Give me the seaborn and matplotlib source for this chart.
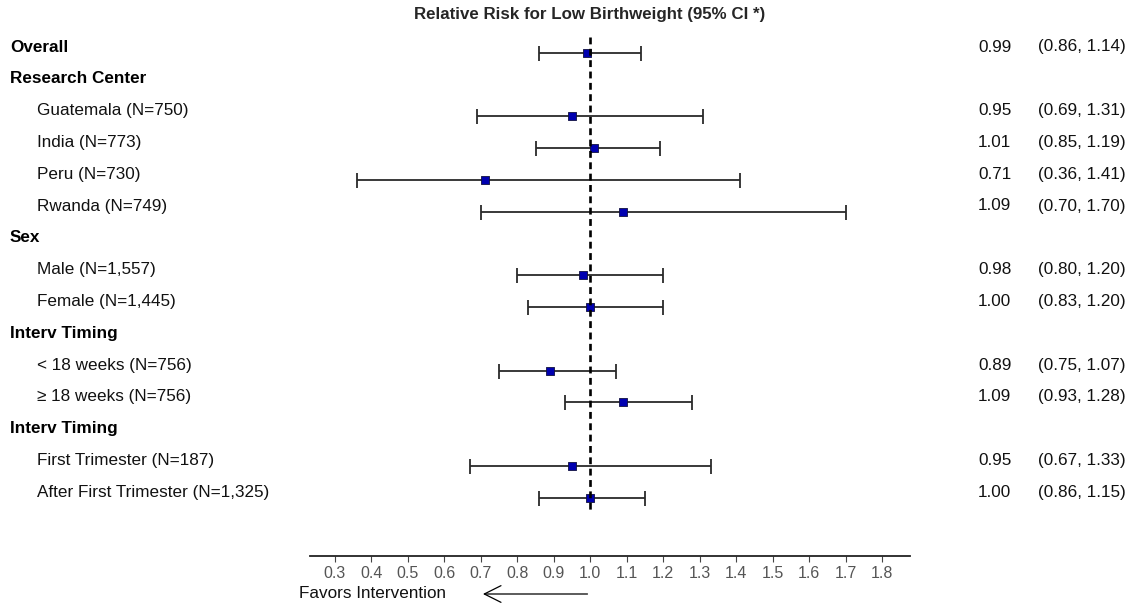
import matplotlib
matplotlib.use("Agg")
import matplotlib.pyplot as plt
import matplotlib.transforms as mtransforms
import seaborn as sns
import pandas as pd
import numpy as np

labels = ["Overall", "Research Center", "Guatemala (N=750)", "India (N=773)", "Peru (N=730)",
          "Rwanda (N=749)", "Sex", "Male (N=1,557)", "Female (N=1,445)", "Interv Timing",
          "< 18 weeks (N=756)", "\u2265 18 weeks (N=756)", "Interv Timing",
          "First Trimester (N=187)", "After First Trimester (N=1,325)"]
is_header = [True, True, False, False, False, False, True, False, False, True,
             False, False, True, False, False]
rr = [0.99, None, 0.95, 1.01, 0.71, 1.09, None, 0.98, 1.00, None, 0.89, 1.09, None, 0.95, 1.00]
lo = [0.86, None, 0.69, 0.85, 0.36, 0.70, None, 0.80, 0.83, None, 0.75, 0.93, None, 0.67, 0.86]
hi = [1.14, None, 1.31, 1.19, 1.41, 1.70, None, 1.20, 1.20, None, 1.07, 1.28, None, 1.33, 1.15]
ticks = [0.3, 0.4, 0.5, 0.6, 0.7, 0.8, 0.9, 1.0, 1.1, 1.2, 1.3, 1.4, 1.5, 1.6, 1.7, 1.8]

sns.set_theme(style="white")
plt.rcParams['font.family'] = ['Liberation Sans', 'DejaVu Sans']

W, H = 1132, 607
fig = plt.figure(figsize=(W / 100, H / 100), dpi=100)
ax_left, ax_right, ax_top, ax_bot = 310, 910, 37, 556
ax = fig.add_axes([ax_left / W, 1 - ax_bot / H, (ax_right - ax_left) / W, (ax_bot - ax_top) / H])

df = pd.DataFrame({"label": labels, "header": is_header, "rr": rr, "lo": lo, "hi": hi})
df["row"] = np.arange(len(df))
d = df.dropna(subset=["rr"])

ax.errorbar(d["rr"], d["row"], xerr=[d["rr"] - d["lo"], d["hi"] - d["rr"]], fmt="none",
            ecolor="#2a2a2a", elinewidth=1.3, capsize=5.4, capthick=1.3, zorder=2)
sns.scatterplot(data=d, x="rr", y="row", ax=ax, marker="s", s=30, color="#0000b0",
                edgecolor="#101040", linewidth=0.6, zorder=3, legend=False)

row_px = 31.8
y_top = -(52.5 - ax_top) / row_px
y_bot = (ax_bot - 52.5) / row_px
ax.set_ylim(y_bot, y_top)
ax.vlines(1.0, y_top, (510 - 52.5) / row_px, colors="black", linestyles=(0, (2.6, 1.7)),
          linewidth=1.9, zorder=4)

x0 = 0.3 - (335 - ax_left) / 364.7
x1 = 1.8 + (ax_right - 882) / 364.7
ax.set_xlim(x0, x1)
ax.set_xticks(ticks)
ax.set_xticklabels([f"{t:.1f}" for t in ticks], color="#555555", fontsize=11.5)
ax.tick_params(axis="x", direction="out", length=4, width=0.8, color="#444444", pad=3, bottom=True)
ax.set_yticks([])
ax.set_xlabel("")
ax.set_ylabel("")
for s in ["top", "left", "right"]:
    ax.spines[s].set_visible(False)
ax.spines["bottom"].set_color("#222222")
ax.spines["bottom"].set_linewidth(1.3)

blend = mtransforms.blended_transform_factory(fig.transFigure, ax.transData)
toff = -5.5 / row_px
fs = 12.3
for _, r in df.iterrows():
    y = r["row"] + toff
    if r["header"]:
        ax.text(10 / W, y, r["label"], transform=blend, fontsize=fs, fontweight="bold",
                va="center", ha="left", color="black")
    else:
        ax.text(37 / W, y, r["label"], transform=blend, fontsize=fs, va="center", ha="left", color="#111111")
    if pd.notna(r["rr"]):
        ax.text(978 / W, y, f"{r['rr']:.2f}", transform=blend, fontsize=fs, va="center", ha="left", color="#111111")
        ax.text(1038 / W, y, f"({r['lo']:.2f}, {r['hi']:.2f})", transform=blend, fontsize=fs,
                va="center", ha="left", color="#111111")

fig.text(590 / W, 1 - 15 / H, "Relative Risk for Low Birthweight (95% CI *)", ha="center", va="center",
         fontsize=12.2, fontweight="bold")
fig.text(299 / W, 1 - 594 / H, "Favors Intervention", ha="left", va="center", fontsize=fs, color="#111111")
tr = mtransforms.blended_transform_factory(ax.transData, fig.transFigure)
ax.annotate("", xy=(0.698, 1 - 594 / H), xytext=(1.0, 1 - 594 / H),
            xycoords=tr, textcoords=tr,
            arrowprops=dict(arrowstyle="->,head_length=1.0,head_width=0.5", color="black", lw=0.9),
            annotation_clip=False)

fig.savefig("out.png", dpi=100)
